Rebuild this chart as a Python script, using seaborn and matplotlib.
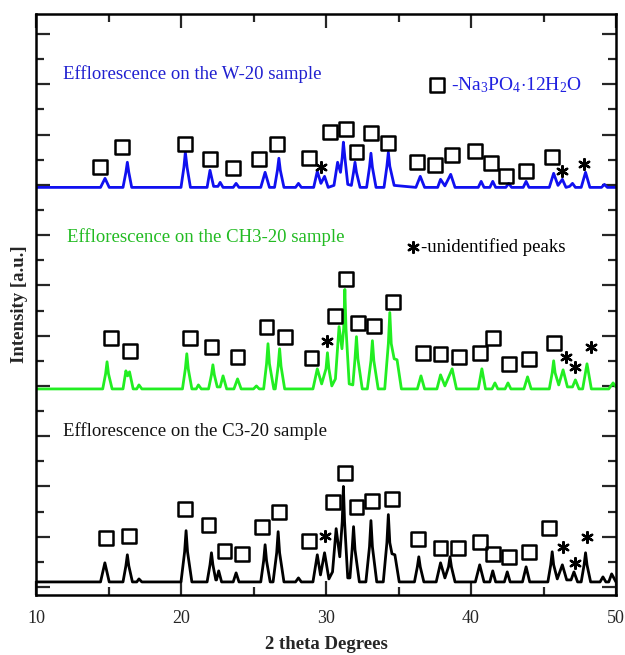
import matplotlib
matplotlib.use("Agg")
import matplotlib.pyplot as plt
import seaborn as sns
import pandas as pd
from matplotlib.ticker import MultipleLocator

# ---------------- data ----------------
# traces: (2theta, intensity above baseline) in a.u.
w20_trace = [(10,0),(14.45,0),(14.76,18),(15.05,0),(16.0,0),(16.2,30),(16.3,50),(16.4,30),(16.6,0),(20.0,0),
             (20.2,40),(20.3,70),(20.42,40),(20.65,0),(21.8,0),(22.0,34),(22.25,2),(22.55,2),(22.7,10),(22.9,0),
             (23.6,0),(23.8,8),(24.0,0),(25.5,0),(25.8,30),(26.1,0),(26.45,0),(26.65,34),(26.75,58),(26.85,34),
             (27.1,0),(27.9,0),(28.1,8),(28.3,0),(29.15,0),(29.4,32),(29.65,8),(29.9,22),(30.15,0),(30.55,4),
             (30.8,50),(31.0,30),(31.12,60),(31.2,90),(31.3,60),(31.5,6),(31.75,4),(31.9,30),(32.0,50),(32.1,30),
             (32.35,0),(32.8,0),(33.0,40),(33.1,68),(33.2,40),(33.45,0),(34.0,0),(34.2,42),(34.3,70),(34.4,42),
             (34.7,4),(36.2,0),(36.5,22),(36.8,0),(37.7,0),(37.9,16),(38.2,3),(38.6,26),(38.9,0),(40.5,0),
             (40.7,12),(40.9,0),(41.3,0),(41.5,12),(41.7,0),(42.4,0),(42.6,8),(42.8,0),(43.6,0),(43.8,12),
             (44.0,0),(45.4,0),(45.7,28),(46.0,4),(46.3,16),(46.55,0),(46.8,2),(47.0,8),(47.2,0),(47.6,0),
             (47.9,30),(48.2,0),(49.0,0),(49.2,6),(49.4,0),(50,0)]
ch3_trace = [(10,0),(14.6,0),(14.8,30),(14.9,54),(15.0,30),(15.25,0),(16.0,0),(16.2,36),(16.32,26),(16.45,34),
             (16.7,0),(16.95,0),(17.1,8),(17.3,0),(20.1,0),(20.3,40),(20.4,70),(20.5,40),(20.75,0),(21.05,0),
             (21.2,8),(21.4,0),(21.9,0),(22.1,28),(22.2,48),(22.3,28),(22.5,4),(22.7,4),(22.9,26),(23.15,0),
             (23.65,0),(23.9,20),(24.15,0),(25.0,0),(25.2,6),(25.4,0),(25.7,0),(25.9,50),(26.0,90),(26.1,50),
             (26.4,0),(26.5,0),(26.7,45),(26.8,80),(26.9,45),(27.15,0),(29.1,0),(29.4,40),(29.7,10),(30.0,40),
             (30.1,72),(30.2,40),(30.4,6),(30.65,20),(30.9,124),(31.1,80),(31.22,120),(31.3,198),(31.38,120),
             (31.6,10),(31.85,8),(32.0,60),(32.1,104),(32.2,60),(32.5,0),(32.85,0),(33.1,56),(33.2,96),(33.3,56),
             (33.6,0),(34.05,0),(34.3,90),(34.4,152),(34.5,90),(34.7,60),(34.9,58),(35.2,0),(36.3,0),(36.55,26),
             (36.8,0),(37.65,0),(37.9,28),(38.2,6),(38.7,40),(39.0,0),(40.5,0),(40.75,40),(41.0,0),(41.45,0),
             (41.65,12),(41.85,0),(42.35,0),(42.55,12),(42.75,0),(43.65,0),(43.9,24),(44.15,0),(45.4,0),
             (45.6,32),(45.7,56),(45.8,32),(46.05,8),(46.35,38),(46.65,4),(47.0,4),(47.2,18),(47.45,0),(47.7,0),
             (48.0,50),(48.3,0),(49.5,0),(49.8,12),(50,4)]
c3_trace = [(10,0),(14.45,0),(14.75,38),(15.05,0),(16.0,0),(16.2,32),(16.3,54),(16.4,32),(16.65,0),(16.95,0),
            (17.1,6),(17.3,0),(20.0,0),(20.25,60),(20.35,102),(20.45,60),(20.75,0),(21.8,0),(22.0,34),(22.1,58),
            (22.2,34),(22.4,4),(22.45,4),(22.6,22),(22.8,0),(23.6,0),(23.8,18),(24.0,0),(25.5,0),(25.7,42),
            (25.8,74),(25.9,42),(26.15,0),(26.35,0),(26.6,58),(26.7,100),(26.8,58),(27.1,0),(27.9,0),(28.1,8),
            (28.3,0),(29.1,0),(29.4,54),(29.62,14),(29.9,58),(30.2,6),(30.45,20),(30.7,106),(30.95,50),
            (31.12,120),(31.2,190),(31.28,120),(31.5,8),(31.65,8),(31.8,64),(31.9,110),(32.0,64),(32.3,0),
            (32.75,0),(33.0,70),(33.1,122),(33.2,70),(33.5,0),(33.95,0),(34.2,78),(34.3,134),(34.4,78),
            (34.55,56),(34.75,54),(35.05,0),(36.1,0),(36.3,30),(36.4,50),(36.5,30),(36.75,0),(37.6,0),(37.9,38),
            (38.2,8),(38.45,30),(38.55,50),(38.65,30),(38.9,0),(40.3,0),(40.6,34),(40.9,0),(41.3,0),(41.5,22),
            (41.7,0),(42.3,0),(42.5,20),(42.7,0),(43.55,0),(43.8,30),(44.05,0),(45.3,0),(45.5,34),(45.6,60),
            (45.7,34),(45.95,6),(46.3,34),(46.6,4),(46.9,4),(47.1,20),(47.35,0),(47.6,0),(47.8,34),(47.9,58),
            (48.0,34),(48.25,0),(48.9,0),(49.1,10),(49.3,0),(49.5,0),(49.7,16),(50,0)]

# vertical offsets of the stacked traces
w20_offset = 795
ch3_offset = 394
c3_offset = 10

# Na3PO4.12H2O square markers (2theta, y)
w20_squares = [(14.41,836),(15.93,876),(20.3,882),(22.0,852),(23.6,834),(25.4,852),(26.6,882),(28.8,854),
               (30.3,905),(31.4,911),(32.1,866),(33.1,903),(34.3,884),(36.3,846),(37.5,840),(38.7,860),
               (40.3,868),(41.4,844),(42.4,818),(43.8,828),(45.6,856)]
ch3_squares = [(15.2,496),(16.5,470),(20.6,496),(22.1,478),(23.9,458),(25.9,517),(27.2,498),(29.0,456),
               (30.6,539),(31.4,613),(32.2,525),(33.3,519),(34.6,567),(36.7,466),(37.9,464),(39.2,458),
               (40.6,466),(41.5,496),(42.6,444),(44.0,454),(45.7,486)]
c3_squares = [(14.8,98),(16.4,101),(20.3,155),(21.9,123),(23.0,72),(24.2,66),(25.6,119),(26.75,149),
              (28.8,92),(30.5,169),(31.3,227),(32.1,159),(33.2,171),(34.55,175),(36.35,96),(37.9,78),
              (39.1,78),(40.6,90),(41.5,66),(42.6,60),(44.0,70),(45.4,117)]
# unidentified peaks (asterisks)
w20_stars = [(29.65,836),(46.3,828),(47.8,842)]
ch3_stars = [(30.1,490),(46.55,458),(47.2,438),(48.3,478)]
c3_stars = [(29.9,101),(46.35,80),(47.2,48),(48.0,100)]

# legend keys
legend_square = [(37.66,999)]
legend_star = [(36.0,677)]

sample_labels = ["Efflorescence on the W-20 sample",
                 "Efflorescence on the CH3-20 sample",
                 "Efflorescence on the C3-20 sample"]
x_ticks = [10, 20, 30, 40, 50]

# ---------------- style ----------------
sns.set_style("ticks")
plt.rcParams['font.family'] = ['Liberation Serif', 'DejaVu Serif']
plt.rcParams['mathtext.fontset'] = 'custom'
plt.rcParams['mathtext.rm'] = 'Liberation Serif'
plt.rcParams['mathtext.it'] = 'Liberation Serif:italic'

BLUE = '#1010f0'
GREEN = '#22ee22'
BLACK = '#000000'

fig = plt.figure(figsize=(6.25, 6.55), dpi=100)
ax = fig.add_axes([36/625, 60/655, 580/625, 581/655])


def trace_df(trace, offset):
    return pd.DataFrame({'x': [p[0] for p in trace], 'y': [p[1] + offset for p in trace]})


def pts_df(pts):
    return pd.DataFrame({'x': [p[0] for p in pts], 'y': [p[1] for p in pts]})


for trace, off, col in [(w20_trace, w20_offset, BLUE), (ch3_trace, ch3_offset, GREEN), (c3_trace, c3_offset, BLACK)]:
    d = trace_df(trace, off)
    sns.lineplot(data=d, x='x', y='y', sort=False, estimator=None, color=col, linewidth=2.0, ax=ax)
    ax.lines[-1].set_solid_joinstyle('round')

all_squares = pts_df(w20_squares + ch3_squares + c3_squares + legend_square)
sns.scatterplot(data=all_squares, x='x', y='y', marker='s', s=100, facecolor='none',
                edgecolor='black', linewidth=1.8, ax=ax, zorder=5)
all_stars = pts_df(w20_stars + ch3_stars + c3_stars + legend_star)
sns.scatterplot(data=all_stars, x='x', y='y', marker=(6, 2, 0), s=60, color='black',
                linewidth=1.7, ax=ax, zorder=5)

# text
ax.text(11.86, 1021, sample_labels[0], color='#2020d0', fontsize=13.5, va='center', ha='left')
ax.text(12.14, 697, sample_labels[1], color='#22bb22', fontsize=13.5, va='center', ha='left')
ax.text(11.86, 310, sample_labels[2], color='#111111', fontsize=13.5, va='center', ha='left')
ax.text(38.6, 999, r'-Na$_3$PO$_4$$\cdot$12H$_2$O', color='#2020e0', fontsize=14, va='center', ha='left')
ax.text(36.55, 677, '-unidentified peaks', color='black', fontsize=13.5, va='center', ha='left')

# axes
ax.set_xlim(10, 50)
ax.set_ylim(-16, 1140)
ax.set_xticks(x_ticks)
ax.xaxis.set_minor_locator(MultipleLocator(5))
ax.yaxis.set_major_locator(MultipleLocator(100))
ax.yaxis.set_minor_locator(MultipleLocator(50))
ax.set_yticklabels([])
ax.tick_params(axis='both', which='major', direction='in', length=10, width=1.6,
               top=True, right=True, labelsize=13, pad=11)
ax.tick_params(axis='both', which='minor', direction='in', length=6, width=1.6, top=True, right=True)
ax.tick_params(axis='y', which='both', labelleft=False)
for s in ax.spines.values():
    s.set_linewidth(1.8)
    s.set_color('black')
ax.set_xlabel('2 theta Degrees', fontsize=13.5, fontweight='bold', labelpad=6.5)
ax.set_ylabel('Intensity [a.u.]', fontsize=13.5, fontweight='bold', labelpad=6)

fig.savefig('out.png', dpi=100)
